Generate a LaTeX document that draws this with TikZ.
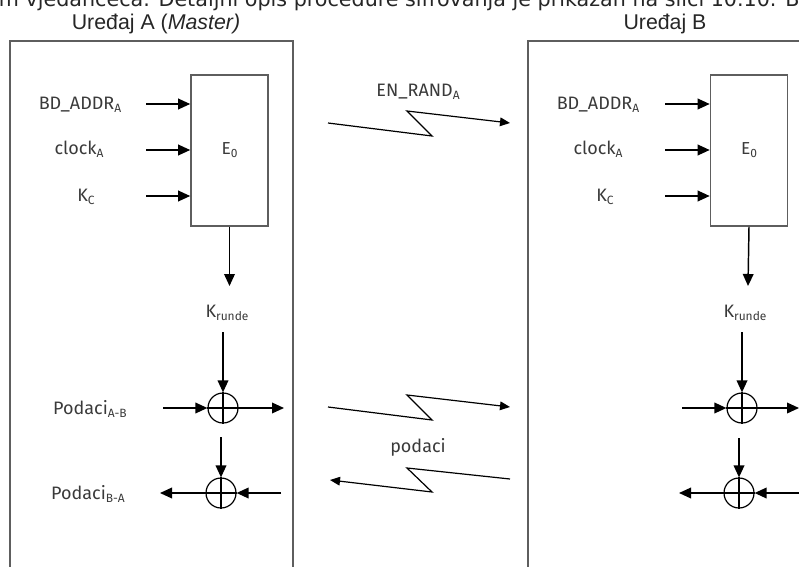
\documentclass[tikz,border=0pt]{standalone}
\usepackage{fontspec}
\setmainfont{Fira Sans}
\newfontfamily\titlefont{Liberation Sans}
\newfontfamily\topfont{DejaVu Sans}
\usetikzlibrary{arrows.meta}
\definecolor{lblc}{HTML}{3A3A3A}
\definecolor{framec}{HTML}{5E5E5E}
\newcommand{\sbs}[1]{\raisebox{-0.35ex}{\fontsize{9}{9}\selectfont #1}}
\begin{document}
\begin{tikzpicture}[x=0.75pt,y=-0.75pt,
  arr/.style={line width=1.1pt,-{Triangle[length=9pt,width=8pt]}},
  ln/.style={line width=1.1pt},
  lbl/.style={font=\fontsize{13.5}{15}\selectfont, text=lblc, inner sep=0},
  ttl/.style={font=\titlefont\fontsize{16}{18}\selectfont, text=black!85, inner sep=0, anchor=base},
  xor/.style={circle, draw, line width=0.9pt, minimum size=22.5pt, inner sep=0},
  ebox/.style={draw=framec, line width=1.2pt, minimum width=57.75pt, minimum height=113.25pt, inner sep=0, font=\fontsize{13}{15}\selectfont, text=lblc},
  dev/.style={draw=framec, line width=1.5pt},
  bolt/.style={line width=0.9pt, -{Triangle[length=7.5pt,width=6.5pt]}}]
\useasboundingbox (0,0) rectangle (799,567);
\clip (0,0) rectangle (799,567);
% cut-off line of text above the figure
\node[anchor=base west, inner sep=0, font=\topfont\fontsize{15.5}{16}\selectfont, text=black!85] (toptext) at (-14,7)
  {om vjeđančeca. Detaljni opis procedure šifrovanja je prikazan na slici 10.10. Bo};
% device frames
\draw[dev] (10,600) -- (10,41) -- (293,41) -- (293,600);
\draw[dev] (528,600) -- (528,41) -- (830,41) -- (830,600);
\node[ttl] (tA) at (156,30) {Uređaj A (\textit{Master)}};
\node[ttl] (tB) at (665,30) {Uređaj B};
% ---------- device A ----------
\node[ebox] (EA) at (229.5,150.5) {E\sbs{0}};
\node[lbl] (bdA) at (80,105) {BD\_ADDR\sbs{A}};
\node[lbl] (clA) at (79,149) {clock\sbs{A}};
\node[lbl] (kcA) at (86,197) {K\sbs{C}};
\coordinate (iA1) at (146,104);
\coordinate (iA2) at (146,150);
\coordinate (iA3) at (146,196);
\draw[arr] (iA1) -- (iA1 -| EA.west);
\draw[arr] (iA2) -- (iA2 -| EA.west);
\draw[arr] (iA3) -- (iA3 -| EA.west);
\node[lbl] (krA) at (227,313) {K\sbs{runde}};
\draw[arr] (EA.south) -- (229.5,286);
\node[xor] (xA1) at (223,408) {};
\node[xor] (xA2) at (221,493) {};
\draw[arr] (223,332) -- (xA1.north);
\draw[ln] (xA1.north) -- (xA1.south) (xA1.west) -- (xA1.east);
\node[lbl] (pAB) at (90,409) {Podaci\sbs{A-B}};
\coordinate (inA1) at (163,408);
\coordinate (outA1) at (284,408);
\draw[arr] (inA1) -- (xA1.west);
\draw[arr] (xA1.east) -- (outA1);
\draw[arr] (221,437) -- (xA2.north);
\draw[ln] (xA2.north) -- (xA2.south) (xA2.west) -- (xA2.east);
\node[lbl] (pBA) at (88,494) {Podaci\sbs{B-A}};
\coordinate (inA2) at (281,493);
\coordinate (outA2) at (160,493);
\draw[arr] (inA2) -- (xA2.east);
\draw[arr] (xA2.west) -- (outA2);
% ---------- device B ----------
\node[ebox] (EB) at (749,150.5) {E\sbs{0}};
\node[lbl] (bdB) at (598,105) {BD\_ADDR\sbs{A}};
\node[lbl] (clB) at (598,149) {clock\sbs{A}};
\node[lbl] (kcB) at (605,197) {K\sbs{C}};
\coordinate (iB1) at (665,104);
\coordinate (iB2) at (665,150);
\coordinate (iB3) at (665,196);
\draw[arr] (iB1) -- (iB1 -| EB.west);
\draw[arr] (iB2) -- (iB2 -| EB.west);
\draw[arr] (iB3) -- (iB3 -| EB.west);
\node[lbl] (krB) at (745,313) {K\sbs{runde}};
\draw[arr] (EB.south) -- (748,286);
\node[xor] (xB1) at (742,408) {};
\node[xor] (xB2) at (739,493) {};
\draw[arr] (742,332) -- (xB1.north);
\draw[ln] (xB1.north) -- (xB1.south) (xB1.west) -- (xB1.east);
\coordinate (inB1) at (682,408);
\coordinate (outB1) at (799,408);
\draw[arr] (inB1) -- (xB1.west);
\draw[arr] (xB1.east) -- (outB1);
\draw[arr] (739,438) -- (xB2.north);
\draw[ln] (xB2.north) -- (xB2.south) (xB2.west) -- (xB2.east);
\coordinate (inB2) at (805,493);
\coordinate (outB2) at (679,493);
\draw[arr] (inB2) -- (xB2.east);
\draw[arr] (xB2.west) -- (outB2);
% ---------- radio links ----------
\node[lbl] (enr) at (418,92) {EN\_RAND\sbs{A}};
\coordinate (e1) at (328,123);
\coordinate (e2) at (510,123);
\draw[bolt] (e1) -- (432,136) -- (407,111) -- (e2);
\coordinate (d1) at (328,407);
\coordinate (d2) at (510,407);
\draw[bolt] (d1) -- (432,420) -- (407,395) -- (d2);
\node[lbl] (pod) at (418,447) {podaci};
\coordinate (d3) at (510,479);
\coordinate (d4) at (330,480);
\draw[bolt] (d3) -- (407,468) -- (432,492) -- (d4);
\end{tikzpicture}
\end{document}
